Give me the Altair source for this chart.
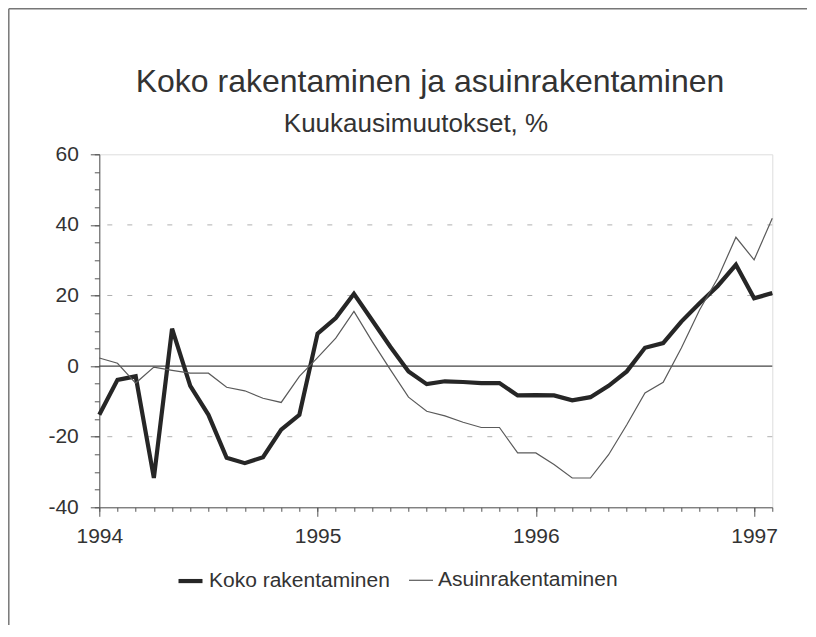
import altair as alt
import pandas as pd

# ---- data (monthly changes, %, Jan 1994 - Feb 1997) ----
months = list(range(38))
koko = [-13.8, -3.9, -2.9, -31.7, 10.6, -5.6, -13.8, -26.0, -27.5, -25.8, -18.0, -13.8,
        9.2, 13.6, 20.5, 13.0, 5.5, -1.5, -5.1, -4.3, -4.5, -4.8, -4.8, -8.3,
        -8.2, -8.3, -9.7, -8.8, -5.6, -1.5, 5.2, 6.5, 12.6, 17.8, 22.7, 28.7,
        19.2, 20.7]
asuin = [2.3, 0.8, -4.8, -0.3, -1.2, -2.0, -2.0, -6.0, -7.0, -9.1, -10.3, -2.9,
         2.4, 7.9, 15.5, 7.0, -1.0, -8.8, -12.8, -14.1, -15.9, -17.4, -17.4, -24.6,
         -24.6, -27.9, -31.7, -31.7, -25.1, -16.6, -7.6, -4.6, 5.1, 15.9, 24.9, 36.5,
         30.1, 41.9]
series_names = ["Koko rakentaminen", "Asuinrakentaminen"]
year_labels = ["1994", "1995", "1996", "1997"]
year_positions = [0, 12, 24, 36]
y_major = list(range(-40, 61, 20))
y_minor = list(range(-40, 61, 5))
grid_values = [-20, 20, 40]
title_text = "Koko rakentaminen ja asuinrakentaminen"
subtitle_text = "Kuukausimuutokset, %"

df = pd.DataFrame({
    "kk": months + months,
    "arvo": koko + asuin,
    "sarja": [series_names[0]] * len(months) + [series_names[1]] * len(months),
})

FONT = "Liberation Sans"
W, H = 673, 353
PADL, PADT = 91.3, 146.3
PADR, PADB = 35, 118

year_expr = "[" + ",".join("'" + y + "'" for y in year_labels) + "]"
x_scale = alt.Scale(domain=[0, 37], nice=False, zero=False)
y_scale = alt.Scale(domain=[-40, 60], nice=False, zero=False)

x_major = alt.X(
    "kk:Q", scale=x_scale, title=None,
    axis=alt.Axis(
        orient="bottom", values=year_positions,
        labelExpr=f"{year_expr}[datum.value / 12]",
        labelOverlap=False, labelFlush=False, labelBound=False,
        tickSize=9, tickWidth=1, labelPadding=9, labelFontSize=21, labelFont=FONT,
        labelColor="#333333", tickColor="#555555", domainColor="#555555",
        grid=False,
    ),
)
y_major_enc = alt.Y(
    "arvo:Q", scale=y_scale, title=None,
    axis=alt.Axis(
        orient="left", values=y_major,
        labelExpr="toString(datum.value)",
        labelOverlap=False, labelFlush=False, labelBound=False,
        tickSize=9, tickWidth=1, labelPadding=12, labelFontSize=21, labelFont=FONT,
        labelColor="#333333", tickColor="#555555", domainColor="#555555",
        grid=False,
    ),
)

minor = alt.Chart(df).mark_point(opacity=0).encode(
    x=alt.X("kk:Q", scale=x_scale, title=None,
            axis=alt.Axis(orient="bottom", values=months, tickSize=4, tickWidth=1,
                          labels=False, domain=False, grid=False, tickColor="#555555")),
    y=alt.Y("arvo:Q", scale=y_scale, title=None,
            axis=alt.Axis(orient="left", values=y_minor, tickSize=5, tickWidth=1,
                          labels=False, domain=False, grid=False, tickColor="#555555")),
)

grid = alt.Chart(pd.DataFrame({"g": grid_values})).mark_rule(
    color="#b0b0b0", strokeWidth=1, strokeDash=[5, 15]
).encode(y=alt.Y("g:Q", scale=y_scale, axis=None))

zero = alt.Chart(pd.DataFrame({"z": [0]})).mark_rule(
    color="#444444", strokeWidth=1.4
).encode(y=alt.Y("z:Q", scale=y_scale, axis=None))

lines = alt.Chart(df).mark_line(strokeJoin="miter").encode(
    x=x_major,
    y=y_major_enc,
    color=alt.Color(
        "sarja:N",
        scale=alt.Scale(domain=series_names, range=["#262626", "#5a5a5a"]),
        legend=alt.Legend(
            title=None, orient="none", direction="horizontal",
            legendX=76.7, legendY=412,
            symbolType="stroke", symbolSize=576,
            labelFont=FONT, labelFontSize=21, labelColor="#333333",
            labelOffset=4, columnPadding=16, labelLimit=400,
        ),
    ),
    strokeWidth=alt.StrokeWidth(
        "sarja:N", scale=alt.Scale(domain=series_names, range=[4.2, 1.2]), legend=None,
    ),
    order=alt.Order("kk:Q"),
)

title = alt.Chart(pd.DataFrame({"t": [title_text]})).mark_text(
    font=FONT, fontSize=32, color="#333333", align="center", baseline="alphabetic"
).encode(text="t:N", x=alt.value(330.7), y=alt.value(-62.3))

subtitle = alt.Chart(pd.DataFrame({"t": [subtitle_text]})).mark_text(
    font=FONT, fontSize=26, color="#333333", align="center", baseline="alphabetic"
).encode(text="t:N", x=alt.value(316.7), y=alt.value(-22.6))

frame_top = alt.Chart(pd.DataFrame({"f": [0]})).mark_rule(
    color="#777777", strokeWidth=1.5
).encode(x=alt.value(-PADL + 0.8), x2=alt.value(W + PADR + 5), y=alt.value(-PADT + 0.8))

frame_left = alt.Chart(pd.DataFrame({"f": [0]})).mark_rule(
    color="#777777", strokeWidth=1.5
).encode(x=alt.value(-PADL + 0.8), y=alt.value(-PADT + 0.8), y2=alt.value(H + PADB + 5))

chart = alt.layer(
    grid, zero, minor, lines, title, subtitle, frame_top, frame_left
).resolve_axis(
    x="independent", y="independent"
).properties(
    width=W,
    height=H,
    autosize=alt.AutoSizeParams(type="none"),
    padding={"left": PADL, "top": PADT, "right": PADR, "bottom": PADB},
).configure_view(
    stroke="#666666", strokeWidth=1.2
).configure(background="white")

chart.save("out.html", embed_options={"renderer": "svg", "actions": False})
